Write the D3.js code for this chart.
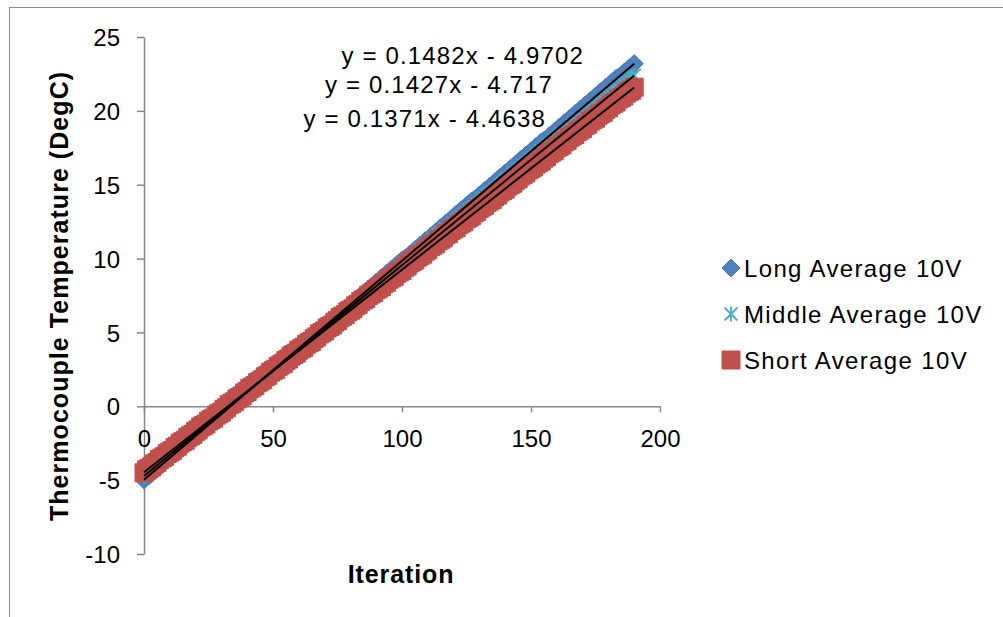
<!DOCTYPE html>
<html>
<head>
<meta charset="utf-8">
<script src="https://cdn.jsdelivr.net/npm/d3@7"></script>
<style>
  html, body { margin: 0; padding: 0; background: #fff; }
  svg { display: block; font-family: "Liberation Sans", Arial, sans-serif; }
</style>
</head>
<body>
<svg id="chart" width="1003" height="617"></svg>
<script>
// Iteration index for each reading (0..190)
const iterations = d3.range(0, 191);

// Thermocouple temperature (DegC) per iteration
const longAvg = [
  -5.0,-4.8,-4.7,-4.5,-4.4,-4.2,-4.1,-3.9,-3.8,-3.6,
  -3.5,-3.3,-3.2,-3.0,-2.9,-2.7,-2.6,-2.5,-2.3,-2.2,
  -2.0,-1.9,-1.7,-1.6,-1.4,-1.3,-1.1,-1.0,-0.8,-0.7,
  -0.5,-0.4,-0.2,-0.1,0.1,0.2,0.4,0.5,0.7,0.8,
  1.0,1.1,1.3,1.4,1.6,1.7,1.8,2.0,2.1,2.3,
  2.4,2.6,2.7,2.9,3.0,3.2,3.3,3.5,3.6,3.8,
  3.9,4.1,4.2,4.4,4.5,4.7,4.8,5.0,5.1,5.3,
  5.4,5.6,5.7,5.8,6.0,6.1,6.3,6.4,6.6,6.7,
  6.9,7.0,7.2,7.3,7.5,7.6,7.8,7.9,8.1,8.2,
  8.4,8.5,8.7,8.8,9.0,9.1,9.3,9.4,9.6,9.7,
  9.9,10.0,10.1,10.3,10.4,10.6,10.7,10.9,11.0,11.2,
  11.3,11.5,11.6,11.8,11.9,12.1,12.2,12.4,12.5,12.7,
  12.8,13.0,13.1,13.3,13.4,13.6,13.7,13.9,14.0,14.1,
  14.3,14.4,14.6,14.7,14.9,15.0,15.2,15.3,15.5,15.6,
  15.8,15.9,16.1,16.2,16.4,16.5,16.7,16.8,17.0,17.1,
  17.3,17.4,17.6,17.7,17.9,18.0,18.1,18.3,18.4,18.6,
  18.7,18.9,19.0,19.2,19.3,19.5,19.6,19.8,19.9,20.1,
  20.2,20.4,20.5,20.7,20.8,21.0,21.1,21.3,21.4,21.6,
  21.7,21.9,22.0,22.2,22.3,22.4,22.6,22.7,22.9,23.0,
  23.2
];
const middleAvg = [
  -4.7,-4.6,-4.4,-4.3,-4.1,-4.0,-3.9,-3.7,-3.6,-3.4,
  -3.3,-3.1,-3.0,-2.9,-2.7,-2.6,-2.4,-2.3,-2.1,-2.0,
  -1.9,-1.7,-1.6,-1.4,-1.3,-1.1,-1.0,-0.9,-0.7,-0.6,
  -0.4,-0.3,-0.2,0.0,0.1,0.3,0.4,0.6,0.7,0.8,
  1.0,1.1,1.3,1.4,1.6,1.7,1.8,2.0,2.1,2.3,
  2.4,2.6,2.7,2.8,3.0,3.1,3.3,3.4,3.6,3.7,
  3.8,4.0,4.1,4.3,4.4,4.6,4.7,4.8,5.0,5.1,
  5.3,5.4,5.6,5.7,5.8,6.0,6.1,6.3,6.4,6.6,
  6.7,6.8,7.0,7.1,7.3,7.4,7.6,7.7,7.8,8.0,
  8.1,8.3,8.4,8.6,8.7,8.8,9.0,9.1,9.3,9.4,
  9.6,9.7,9.8,10.0,10.1,10.3,10.4,10.6,10.7,10.8,
  11.0,11.1,11.3,11.4,11.6,11.7,11.8,12.0,12.1,12.3,
  12.4,12.6,12.7,12.8,13.0,13.1,13.3,13.4,13.5,13.7,
  13.8,14.0,14.1,14.3,14.4,14.5,14.7,14.8,15.0,15.1,
  15.3,15.4,15.5,15.7,15.8,16.0,16.1,16.3,16.4,16.5,
  16.7,16.8,17.0,17.1,17.3,17.4,17.5,17.7,17.8,18.0,
  18.1,18.3,18.4,18.5,18.7,18.8,19.0,19.1,19.3,19.4,
  19.5,19.7,19.8,20.0,20.1,20.3,20.4,20.5,20.7,20.8,
  21.0,21.1,21.3,21.4,21.5,21.7,21.8,22.0,22.1,22.3,
  22.4
];
const shortAvg = [
  -4.5,-4.3,-4.2,-4.1,-3.9,-3.8,-3.6,-3.5,-3.4,-3.2,
  -3.1,-3.0,-2.8,-2.7,-2.5,-2.4,-2.3,-2.1,-2.0,-1.9,
  -1.7,-1.6,-1.4,-1.3,-1.2,-1.0,-0.9,-0.8,-0.6,-0.5,
  -0.4,-0.2,-0.1,0.1,0.2,0.3,0.5,0.6,0.7,0.9,
  1.0,1.2,1.3,1.4,1.6,1.7,1.8,2.0,2.1,2.3,
  2.4,2.5,2.7,2.8,2.9,3.1,3.2,3.4,3.5,3.6,
  3.8,3.9,4.0,4.2,4.3,4.4,4.6,4.7,4.9,5.0,
  5.1,5.3,5.4,5.5,5.7,5.8,6.0,6.1,6.2,6.4,
  6.5,6.6,6.8,6.9,7.1,7.2,7.3,7.5,7.6,7.7,
  7.9,8.0,8.1,8.3,8.4,8.6,8.7,8.8,9.0,9.1,
  9.2,9.4,9.5,9.7,9.8,9.9,10.1,10.2,10.3,10.5,
  10.6,10.8,10.9,11.0,11.2,11.3,11.4,11.6,11.7,11.9,
  12.0,12.1,12.3,12.4,12.5,12.7,12.8,12.9,13.1,13.2,
  13.4,13.5,13.6,13.8,13.9,14.0,14.2,14.3,14.5,14.6,
  14.7,14.9,15.0,15.1,15.3,15.4,15.6,15.7,15.8,16.0,
  16.1,16.2,16.4,16.5,16.6,16.8,16.9,17.1,17.2,17.3,
  17.5,17.6,17.7,17.9,18.0,18.2,18.3,18.4,18.6,18.7,
  18.8,19.0,19.1,19.3,19.4,19.5,19.7,19.8,19.9,20.1,
  20.2,20.4,20.5,20.6,20.8,20.9,21.0,21.2,21.3,21.4,
  21.6
];

// Series names, colours and marker shapes (drawing order)
const seriesNames = ["Long Average 10V", "Middle Average 10V", "Short Average 10V"];
const seriesColors = ["#4F81BD", "#4BACC6", "#C0504D"];
const seriesMarkers = ["diamond", "star", "square"];
const seriesValues = [longAvg, middleAvg, shortAvg];

// Linear trendline fits (slope, intercept) as printed on the chart
const trendSlopes = [0.1482, 0.1427, 0.1371];
const trendIntercepts = [-4.9702, -4.717, -4.4638];

// Axis ticks
const xTicks = [0, 50, 100, 150, 200];
const yTicks = [-10, -5, 0, 5, 10, 15, 20, 25];

const svg = d3.select("#chart");

// Chart-area frame
svg.append("rect")
  .attr("x", 9.5).attr("y", 7.5)
  .attr("width", 1100).attr("height", 700)
  .attr("fill", "none").attr("stroke", "#8c8c8c").attr("stroke-width", 1);

const x = d3.scaleLinear().domain([0, 200]).range([144, 660]);
const y = d3.scaleLinear().domain([-10, 25]).range([554, 37]);

const axisColor = "#868686";
const fontSize = 24;
const titleSize = 25;
const fontStack = '"Liberation Sans", Arial, sans-serif';
const plain = d => String(d);   // hyphen-minus for negatives

// Y axis
const yAxis = svg.append("g")
  .attr("transform", `translate(${x(0)},0)`)
  .call(d3.axisLeft(y).tickValues(yTicks).tickFormat(plain)
    .tickSize(7).tickSizeOuter(0).tickPadding(17));
// X axis, crossing at y = 0
const xAxis = svg.append("g")
  .attr("transform", `translate(0,${y(0)})`)
  .call(d3.axisBottom(x).tickValues(xTicks).tickFormat(plain)
    .tickSize(6).tickSizeOuter(0).tickPadding(18));

[yAxis, xAxis].forEach(g => {
  g.select(".domain").attr("stroke", axisColor).attr("stroke-width", 1.5);
  g.selectAll(".tick line").attr("stroke", axisColor).attr("stroke-width", 1.5);
  g.selectAll(".tick text")
    .attr("fill", "#000")
    .style("font-size", fontSize + "px")
    .style("font-family", fontStack);
});
yAxis.selectAll(".tick text").attr("dy", "0.36em");

// Marker path generators centred on (0,0)
function markerPath(kind) {
  if (kind === "diamond") {
    const r = 9;
    return `M0,${-r}L${r},0L0,${r}L${-r},0Z`;
  }
  if (kind === "square") {
    const h = 9;
    return `M${-h},${-h}H${h}V${h}H${-h}Z`;
  }
  // star: vertical bar with an X through it
  const r = 7.5, d = 6.5;
  return `M0,${-r}V${r}M${-d},${-d}L${d},${d}M${-d},${d}L${d},${-d}`;
}

function styleMarker(sel, i) {
  const kind = seriesMarkers[i];
  const c = seriesColors[i];
  if (kind === "star") {
    sel.attr("fill", "none").attr("stroke", c).attr("stroke-width", 1.8);
  } else if (kind === "diamond") {
    sel.attr("fill", c).attr("stroke", "#4A7EBB").attr("stroke-width", 1);
  } else {
    sel.attr("fill", c).attr("stroke", c).attr("stroke-width", 1);
  }
}

// Data markers
const plot = svg.append("g");
seriesValues.forEach((vals, i) => {
  const pts = iterations.map((it, k) => ({ it, v: vals[k] }));
  plot.append("g")
    .selectAll("path")
    .data(pts)
    .join("path")
    .attr("transform", d => `translate(${x(d.it)},${y(d.v)})`)
    .attr("d", markerPath(seriesMarkers[i]))
    .call(styleMarker, i);
});

// Trendlines
const xFirst = d3.min(iterations), xLast = d3.max(iterations);
trendSlopes.forEach((m, i) => {
  const b = trendIntercepts[i];
  svg.append("line")
    .attr("x1", x(xFirst)).attr("y1", y(m * xFirst + b))
    .attr("x2", x(xLast)).attr("y2", y(m * xLast + b))
    .attr("stroke", "#000").attr("stroke-width", 2);
});

// Trendline equations
const eqText = trendSlopes.map((m, i) =>
  `y = ${m}x - ${Math.abs(trendIntercepts[i])}`);
const eqPos = [[584, 64], [553, 93], [546, 127]];
svg.append("g").selectAll("text")
  .data(eqText)
  .join("text")
  .attr("x", (d, i) => eqPos[i][0])
  .attr("y", (d, i) => eqPos[i][1])
  .attr("text-anchor", "end")
  .style("font-size", fontSize + "px")
  .style("letter-spacing", "1.15px")
  .text(d => d);

// Axis titles
svg.append("text")
  .attr("x", 401).attr("y", 583)
  .attr("text-anchor", "middle")
  .style("font-size", titleSize + "px").style("font-weight", "bold")
  .style("letter-spacing", "0.9px")
  .text("Iteration");
svg.append("text")
  .attr("transform", "translate(68,296) rotate(-90)")
  .attr("text-anchor", "middle")
  .style("font-size", titleSize + "px").style("font-weight", "bold")
  .style("letter-spacing", "1.05px")
  .text("Thermocouple Temperature (DegC)");

// Legend
const legend = svg.append("g");
seriesNames.forEach((name, i) => {
  const cy = 268 + i * 46;
  legend.append("path")
    .attr("transform", `translate(731,${cy})`)
    .attr("d", markerPath(seriesMarkers[i]))
    .call(styleMarker, i);
  legend.append("text")
    .attr("x", 744).attr("y", cy + 9)
    .style("font-size", fontSize + "px")
    .style("letter-spacing", "1.35px")
    .text(name);
});
</script>
</body>
</html>
